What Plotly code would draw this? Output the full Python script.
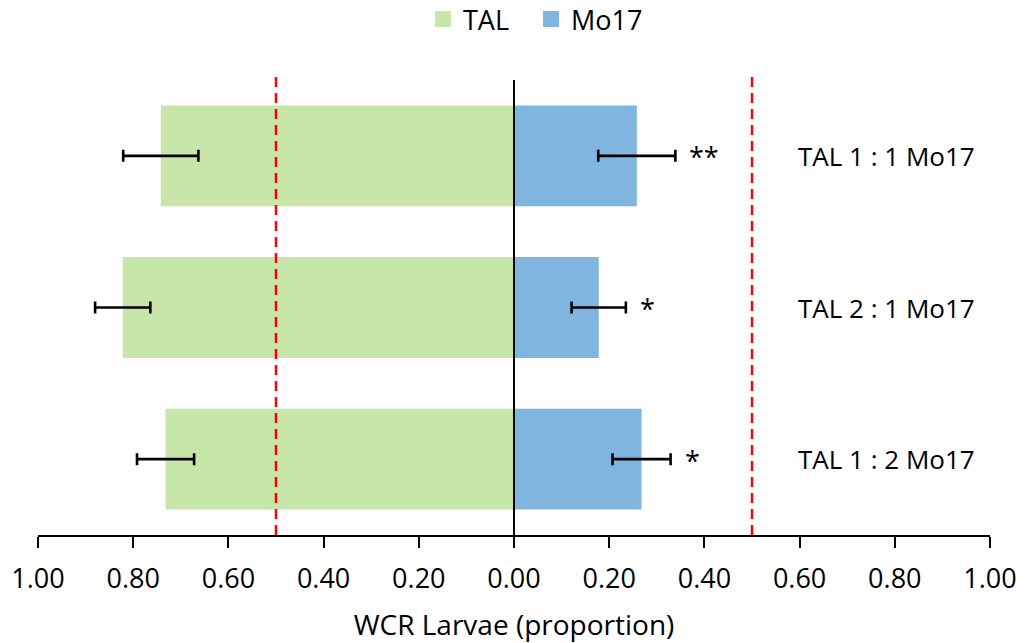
import plotly.graph_objects as go

# ---- data ----
categories = ["TAL 1 : 1 Mo17", "TAL 2 : 1 Mo17", "TAL 1 : 2 Mo17"]
tal = [0.742, 0.822, 0.732]
tal_err = [0.079, 0.058, 0.060]
mo17 = [0.258, 0.178, 0.268]
mo17_err = [0.081, 0.057, 0.061]
signif = ["**", "*", "*"]
tick_vals = [-1.0, -0.8, -0.6, -0.4, -0.2, 0.0, 0.2, 0.4, 0.6, 0.8, 1.0]
tick_text = ["1.00", "0.80", "0.60", "0.40", "0.20", "0.00", "0.20", "0.40", "0.60", "0.80", "1.00"]
threshold = 0.5

GREEN = "#C8E6A9"
BLUE = "#80B5DF"
FONT = "Open Sans"
FS = 27

fig = go.Figure()

fig.add_trace(go.Bar(
    y=categories, x=[-v for v in tal], orientation="h", name="TAL",
    marker=dict(color=GREEN, line=dict(width=0)), showlegend=False,
    error_x=dict(type="data", array=tal_err, color="black", thickness=2.6, width=6),
))
fig.add_trace(go.Bar(
    y=categories, x=mo17, orientation="h", name="Mo17",
    marker=dict(color=BLUE, line=dict(width=0)), showlegend=False,
    error_x=dict(type="data", array=mo17_err, color="black", thickness=2.6, width=6),
))

# legend entries (square swatches), one legend box each
for name, col, lg in [("TAL", GREEN, "legend"), ("Mo17", BLUE, "legend2")]:
    fig.add_trace(go.Scatter(
        x=[None], y=[None], mode="markers", name=name, legend=lg,
        marker=dict(symbol="square", size=16, color=col), showlegend=True,
    ))

# significance stars
for cat, v, e, s in zip(categories, mo17, mo17_err, signif):
    fig.add_annotation(x=v + e, y=cat, xref="x", yref="y", text=s,
                       showarrow=False, xanchor="left", yanchor="middle",
                       xshift=12, yshift=-1,
                       font=dict(family=FONT, size=FS, color="black"))

# category labels at the right, inside the plot
for cat in categories:
    fig.add_annotation(x=0.986, y=cat, xref="paper", yref="y", text=cat,
                       showarrow=False, xanchor="right", yanchor="middle",
                       font=dict(family=FONT, size=26, color="black"))

# reference lines
for xv in (-threshold, threshold):
    fig.add_shape(type="line", xref="x", yref="paper", x0=xv, x1=xv, y0=0, y1=1.01,
                  line=dict(color="#FF0000", width=2.5, dash="10px,6px"), layer="above")
fig.add_shape(type="line", xref="x", yref="paper", x0=0, x1=0, y0=0, y1=1,
              line=dict(color="black", width=2), layer="above")

legend_style = dict(orientation="h", xanchor="left", yanchor="middle", yref="container",
                    y=0.9697, itemsizing="trace", bgcolor="rgba(0,0,0,0)",
                    font=dict(family=FONT, size=FS, color="black"))

fig.update_layout(
    width=1026, height=643,
    margin=dict(l=38, r=36, t=80, b=108, pad=0, autoexpand=False),
    paper_bgcolor="white", plot_bgcolor="white",
    barmode="relative", bargap=0.335,
    font=dict(family=FONT, size=FS, color="black"),
    legend=dict(x=0.4044, **legend_style),
    legend2=dict(x=0.5179, **legend_style),
    xaxis=dict(range=[-1, 1], tickvals=tick_vals, ticktext=tick_text,
               ticks="outside", ticklen=11, tickwidth=2, tickcolor="black",
               showline=True, linecolor="black", linewidth=2,
               showgrid=False, zeroline=False, ticklabelstandoff=8,
               automargin=False,
               tickfont=dict(family=FONT, size=FS, color="black"),
               title=dict(text="WCR Larvae (proportion)", standoff=21,
                          font=dict(family=FONT, size=28, color="black"))),
    yaxis=dict(type="category", categoryorder="array", categoryarray=categories,
               autorange="reversed", showticklabels=False, automargin=False,
               ticks="", showline=False, showgrid=False, zeroline=False),
)

fig.write_html("out.html")
